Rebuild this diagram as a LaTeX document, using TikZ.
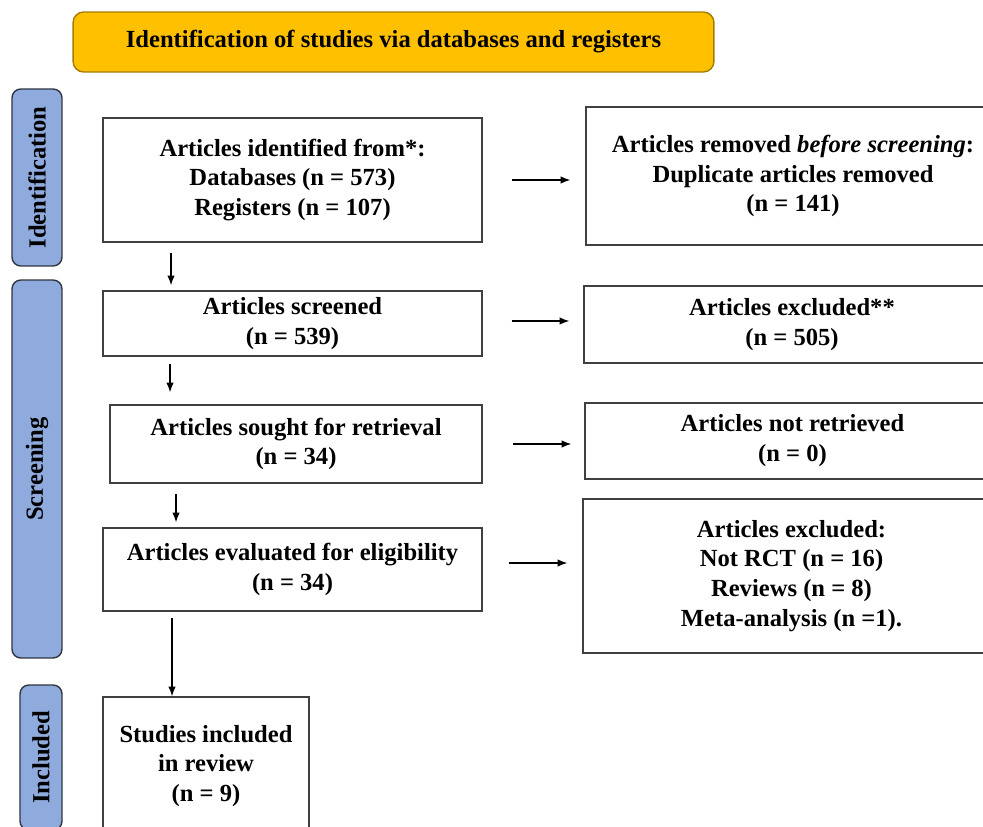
\documentclass[tikz,border=0pt]{standalone}
\usepackage{fontspec}
\setmainfont{Liberation Serif}
\usetikzlibrary{arrows.meta,calc}

\definecolor{bannerfill}{HTML}{FFC000}
\definecolor{bannerline}{HTML}{A67C00}
\definecolor{phasefill}{HTML}{8FAADC}
\definecolor{phaseline}{HTML}{2E3440}
\definecolor{boxline}{HTML}{404040}

\begin{document}
\begin{tikzpicture}[x=0.02cm,y=-0.02cm,>={Latex[length=5.5pt,width=4.2pt]},
	font=\fontsize{14}{17}\selectfont\bfseries,
	flowbox/.style={draw=boxline,line width=0.8pt,align=center,inner sep=0pt},
	phase/.style={draw=phaseline,fill=phasefill,line width=0.8pt,rounded corners=5pt,rotate=90,inner sep=0pt},
	banner/.style={draw=bannerline,fill=bannerfill,line width=0.8pt,rounded corners=6pt,inner sep=0pt}]
	\useasboundingbox (0,0) rectangle (983,827);
	\clip (0,0) rectangle (983,827);
	
	% Title bar
	\node[banner,minimum width=12.82cm,minimum height=1.2cm] (title) at (393.5,42) {Identification of studies via databases and registers};
	
	% Phase labels on the left
	\node[phase,minimum width=3.54cm,minimum height=1cm] (identification) at (37,177.5) {Identification};
	\node[phase,minimum width=7.56cm,minimum height=1cm] (screening) at (37,469) {Screening};
	\node[phase,minimum width=2.9cm,minimum height=0.84cm] (included) at (41,757.5) {Included};
	
	% Main column
	\node[flowbox,minimum width=7.58cm,minimum height=2.48cm] (identified) at (292.5,180) {Articles identified from*:\\Databases (n = 573)\\Registers (n = 107)};
	\node[flowbox,minimum width=7.58cm,minimum height=1.3cm] (screened) at (292.5,323.5) {Articles screened\\(n = 539)};
	\node[flowbox,minimum width=7.44cm,minimum height=1.56cm] (sought) at (296,444) {Articles sought for retrieval\\(n = 34)};
	\node[flowbox,minimum width=7.58cm,minimum height=1.66cm] (eligible) at (292.5,569.5) {Articles evaluated for eligibility\\(n = 34)};
	\node[flowbox,minimum width=4.12cm,minimum height=2.76cm] (review) at (206,766) {Studies included\\in review\\(n = 9)};
	
	% Right column
	\node[flowbox,minimum width=8.28cm,minimum height=2.76cm] (removed) at (793,176) {Articles removed \textit{before screening}:\\Duplicate articles removed\\(n = 141)};
	\node[flowbox,minimum width=8.32cm,minimum height=1.54cm] (excluded) at (792,324.5) {Articles excluded**\\(n = 505)};
	\node[flowbox,minimum width=8.3cm,minimum height=1.52cm] (notretrieved) at (792.5,441) {Articles not retrieved\\(n = 0)};
	\node[flowbox,minimum width=8.34cm,minimum height=3.08cm] (reasons) at (791.5,576) {Articles excluded:\\Not RCT (n = 16)\\Reviews (n = 8)\\Meta-analysis (n =1).};
	
	% Downward arrows
	\draw[->,line width=0.7pt,shorten <=0.2cm,shorten >=0.1cm] ([xshift=-2.43cm]identified.south) -- ([xshift=-2.43cm]identified.south |- screened.north);
	\draw[->,line width=0.7pt,shorten <=0.14cm,shorten >=0.24cm] ([xshift=-2.45cm]screened.south) -- ([xshift=-2.45cm]screened.south |- sought.north);
	\draw[->,line width=0.7pt,shorten <=0.2cm,shorten >=0.1cm] ([xshift=-2.4cm]sought.south) -- ([xshift=-2.4cm]sought.south |- eligible.north);
	\draw[->,line width=0.7pt,shorten <=0.12cm] ([xshift=-2.41cm]eligible.south) -- ([xshift=-2.41cm]eligible.south |- review.north);
	
	% Arrows to the right
	\draw[->,line width=0.7pt,shorten <=0.58cm,shorten >=0.3cm] (identified.east) -- (identified.east -| removed.west);
	\draw[->,line width=0.7pt,shorten <=0.58cm,shorten >=0.28cm] ([yshift=0.05cm]screened.east) -- ([yshift=0.05cm]screened.east -| excluded.west);
	\draw[->,line width=0.7pt,shorten <=0.6cm,shorten >=0.26cm] (sought.east) -- (sought.east -| notretrieved.west);
	\draw[->,line width=0.7pt,shorten <=0.52cm,shorten >=0.3cm] ([yshift=0.13cm]eligible.east) -- ([yshift=0.13cm]eligible.east -| reasons.west);
	
\end{tikzpicture}
\end{document}
